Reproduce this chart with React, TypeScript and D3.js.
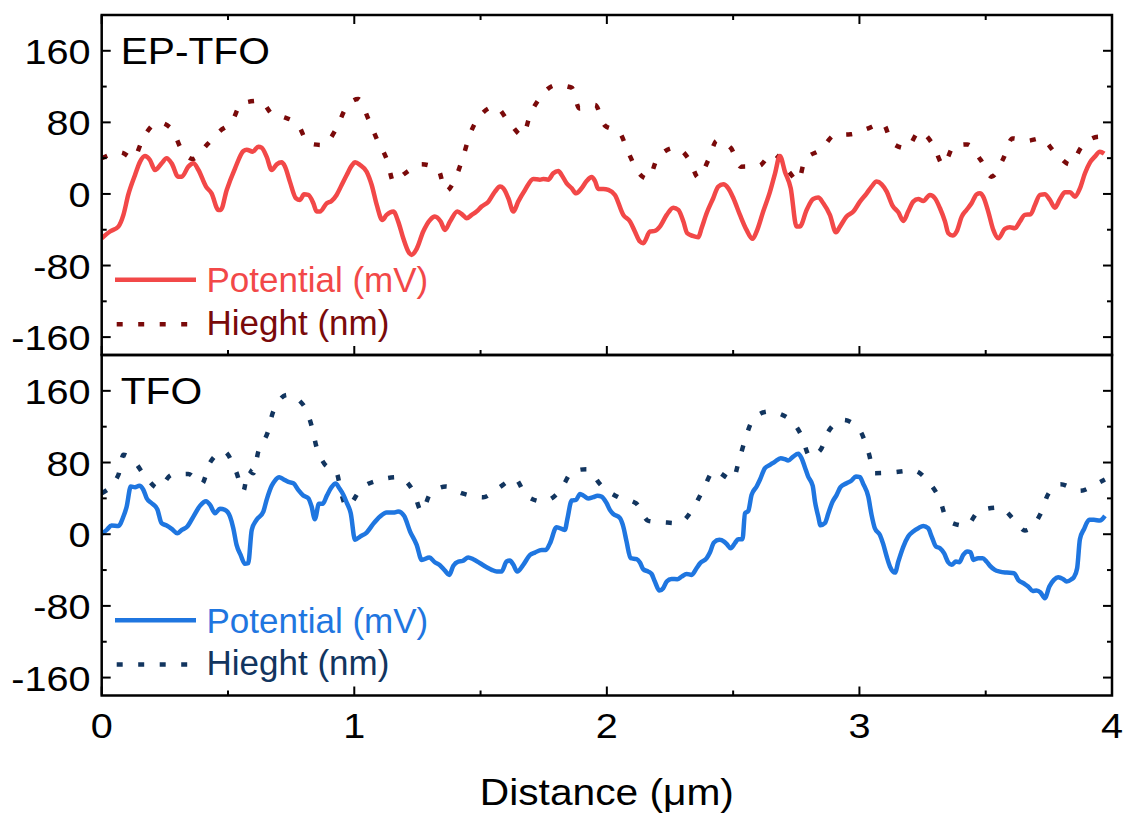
import React from 'react';
import * as d3 from 'd3';

// ---- axis ticks ----
const xMajorTicks = [0, 1, 2, 3, 4];
const xMinorTicks = [0.5, 1.5, 2.5, 3.5];
const yMajorTicks = [-160, -80, 0, 80, 160];
const yMinorTicks = [-120, -40, 40, 120];
const yDomain: [number, number] = [-180, 200];
const xDomain: [number, number] = [0, 4];

const panelLabels = ['EP-TFO', 'TFO'];
const legendLabels = ['Potential (mV)', 'Hieght (nm)'];
const xAxisTitle = 'Distance (\u03bcm)';

// ---- data: [distance (µm), value] ----
const epPotential: [number, number][] = [
  [0, -49.5], [0.033, -42], [0.066, -36.5], [0.086, -23.4], [0.105, -1.1], [0.132, 21.2], [0.152, 36.1], [0.171, 42.4],
  [0.191, 38], [0.211, 26.8], [0.237, 34.2], [0.257, 39.8], [0.277, 34.2], [0.303, 19.3], [0.317, 19.3], [0.343, 30.5],
  [0.363, 34.2], [0.383, 26.8], [0.413, 8.2], [0.435, 0.7], [0.462, -17.9], [0.471, -17.9], [0.495, 4.5], [0.528, 28.7],
  [0.561, 48], [0.574, 49.5], [0.598, 47.3], [0.62, 52.8], [0.633, 51.7], [0.653, 41.7], [0.673, 26.8], [0.693, 33.1],
  [0.712, 35.3], [0.726, 30.5], [0.745, 13.8], [0.769, -4.8], [0.785, -6.7], [0.801, -0.4], [0.818, -1.1], [0.838, -10.4],
  [0.851, -19.7], [0.864, -19.7], [0.891, -10.4], [0.91, -7.8], [0.93, -1.1], [0.95, 10], [0.97, 21.2], [0.99, 31.6],
  [1.003, 35.3], [1.023, 32.4], [1.049, 24.9], [1.069, 10], [1.089, -12.3], [1.111, -29], [1.128, -23.4], [1.155, -19.7],
  [1.174, -30.9], [1.194, -49.5], [1.214, -64.4], [1.227, -68.1], [1.247, -61.4], [1.273, -42], [1.3, -29], [1.319, -25.3],
  [1.342, -30.9], [1.359, -40.2], [1.379, -30.9], [1.408, -19.7], [1.429, -23.4], [1.445, -27.2], [1.465, -23.4], [1.484, -19.7],
  [1.504, -14.1], [1.531, -8.6], [1.557, 2.6], [1.577, 8.2], [1.59, 6.3], [1.61, -4.8], [1.63, -19.7], [1.649, -8.6],
  [1.676, 4.5], [1.709, 16.7], [1.735, 16], [1.748, 16.7], [1.768, 16], [1.788, 23.1], [1.808, 25.7], [1.821, 21.2],
  [1.841, 11.9], [1.861, 6.3], [1.878, 0.7], [1.9, 6.3], [1.92, 14.5], [1.94, 19], [1.953, 14.5], [1.966, 5.6],
  [1.986, 5.6], [2.006, 4.5], [2.032, -1.1], [2.065, -23.4], [2.092, -30.9], [2.111, -42], [2.131, -53.2], [2.144, -55.1],
  [2.171, -42], [2.19, -41.3], [2.21, -36.5], [2.237, -23.4], [2.263, -15.3], [2.283, -17.9], [2.303, -30.9], [2.318, -43.9],
  [2.34, -46.9], [2.362, -48.4], [2.375, -38.3], [2.395, -21.6], [2.421, -4.8], [2.441, 8.2], [2.461, 10.8], [2.481, 6.3],
  [2.501, -4.8], [2.527, -23.4], [2.553, -40.2], [2.577, -50.2], [2.593, -42], [2.619, -19.7], [2.646, 2.6], [2.666, 23.1],
  [2.685, 42.5], [2.705, 24.9], [2.728, 6.3], [2.751, -36.5], [2.764, -36.5], [2.791, -17.9], [2.817, -5.6], [2.837, -4.1],
  [2.857, -10.4], [2.883, -23.4], [2.907, -42.8], [2.923, -36.5], [2.949, -25.3], [2.976, -19.7], [3.002, -8.6], [3.028, 0.4],
  [3.048, 8.2], [3.068, 13.8], [3.088, 10.8], [3.108, 2.6], [3.131, -13], [3.154, -20.5], [3.174, -30.1], [3.193, -19.7],
  [3.213, -8.6], [3.233, -5.6], [3.253, -7.8], [3.279, -1.1], [3.299, -4.8], [3.319, -16], [3.339, -30.9], [3.352, -43.9],
  [3.369, -46.5], [3.385, -42], [3.405, -25.3], [3.424, -17.9], [3.444, -10.4], [3.464, -0.4], [3.477, 0.7], [3.49, -3],
  [3.51, -19.7], [3.53, -40.2], [3.55, -49.5], [3.576, -39.1], [3.596, -37.2], [3.616, -38.3], [3.635, -30.9], [3.655, -23.4],
  [3.678, -22.7], [3.695, -12.3], [3.715, -1.1], [3.734, -0.4], [3.754, -6.7], [3.774, -15.3], [3.794, -5.6], [3.814, 1.9],
  [3.834, 1.9], [3.853, -3], [3.873, 6.3], [3.893, 23.1], [3.913, 35.3], [3.932, 41.7], [3.952, 47.3], [3.969, 45],
];

const epHeight: [number, number][] = [
  [0, 39.8], [0.075, 46.5], [0.125, 39.8], [0.165, 62.9], [0.224, 80], [0.277, 72.6], [0.317, 49.1], [0.36, 39.1],
  [0.418, 55.4], [0.468, 70.3], [0.515, 80.7], [0.554, 101.2], [0.627, 104.2], [0.679, 88.2], [0.723, 85.6], [0.778, 77],
  [0.818, 56.6], [0.875, 54.7], [0.928, 72.6], [0.966, 95.6], [1.016, 106], [1.056, 83.7], [1.091, 60.3], [1.131, 36.8],
  [1.155, 13.8], [1.201, 23.1], [1.267, 33.1], [1.333, 26.8], [1.362, 3.3], [1.403, 19.3], [1.432, 42.8], [1.458, 66.6],
  [1.498, 87.4], [1.557, 97.5], [1.616, 78.9], [1.667, 65.1], [1.696, 88.2], [1.735, 107.5], [1.801, 121.7], [1.861, 118.7],
  [1.891, 95.6], [1.953, 99.4], [1.993, 76.3], [2.048, 69.6], [2.085, 46.5], [2.124, 24.2], [2.164, 16.7], [2.2, 39.8],
  [2.27, 51.7], [2.329, 36.8], [2.362, 18.2], [2.402, 38], [2.435, 59.5], [2.49, 51.7], [2.53, 30.5], [2.603, 31.6],
  [2.656, 45.4], [2.718, 25.7], [2.758, 14.5], [2.784, 38], [2.85, 50.2], [2.903, 65.9], [2.965, 66.6], [3.028, 72.6],
  [3.092, 78.9], [3.131, 56.6], [3.187, 51], [3.237, 69.6], [3.292, 54.7], [3.332, 32.4], [3.374, 53.6], [3.427, 55.4],
  [3.48, 38], [3.523, 19.3], [3.569, 39.1], [3.606, 62.1], [3.662, 59.2], [3.717, 62.1], [3.774, 46.5], [3.834, 33.1],
  [3.88, 52.8], [3.949, 64], [3.969, 60],
];

const tfoPotential: [number, number][] = [
  [0, 0.4], [0.02, 4.8], [0.039, 9.7], [0.066, 9.3], [0.086, 19.7], [0.099, 30.9], [0.115, 53.2], [0.132, 52.5],
  [0.149, 54], [0.165, 49.5], [0.178, 40.2], [0.198, 34.6], [0.22, 27.9], [0.237, 12.3], [0.257, 9.7], [0.277, 6],
  [0.299, 1.1], [0.317, 4.8], [0.339, 8.6], [0.363, 19.7], [0.389, 31.6], [0.413, 36.8], [0.429, 32.7], [0.449, 23.4],
  [0.468, 28.3], [0.488, 27.2], [0.508, 19.7], [0.521, 6.7], [0.534, -11.9], [0.55, -23.1], [0.567, -33.1], [0.58, -32.4],
  [0.594, 4.8], [0.613, 16], [0.64, 25.3], [0.653, 38.3], [0.673, 54], [0.686, 59.9], [0.703, 63.6], [0.719, 61.4],
  [0.739, 58.4], [0.759, 56.9], [0.778, 49.5], [0.798, 43.2], [0.818, 40.2], [0.831, 30.9], [0.844, 16.7], [0.86, 33.9],
  [0.875, 33.9], [0.891, 42.8], [0.91, 52.5], [0.926, 56.6], [0.941, 51.3], [0.957, 43.9], [0.97, 35.3], [0.986, 23.4],
  [1.003, -6.3], [1.023, -2.6], [1.049, 1.9], [1.075, 11.5], [1.102, 19.7], [1.128, 24.2], [1.155, 24.2], [1.174, 25.3],
  [1.197, 20.5], [1.221, 3], [1.247, -11.9], [1.267, -28.7], [1.297, -26], [1.319, -31.3], [1.339, -34.6], [1.359, -40.6],
  [1.376, -45.4], [1.392, -35.3], [1.412, -30.5], [1.429, -29.8], [1.451, -26], [1.471, -27.9], [1.498, -32.4], [1.524, -36.8],
  [1.544, -39.8], [1.564, -41.7], [1.583, -41.7], [1.603, -30.5], [1.616, -29.4], [1.63, -34.2], [1.645, -41.7], [1.669, -34.2],
  [1.696, -23.1], [1.715, -20.5], [1.742, -17.5], [1.759, -17.5], [1.775, -10], [1.801, 7.8], [1.834, 4.8], [1.843, 16],
  [1.861, 37.6], [1.878, 38.3], [1.894, 45], [1.909, 42.8], [1.926, 39.8], [1.946, 41.3], [1.963, 42.8], [1.979, 42],
  [1.999, 34.6], [2.012, 27.2], [2.025, 22.7], [2.052, 17.9], [2.065, 8.6], [2.078, -8.2], [2.094, -26.8], [2.118, -27.9],
  [2.131, -31.6], [2.144, -39.1], [2.164, -41.7], [2.177, -44.3], [2.19, -52.8], [2.208, -62.9], [2.223, -60.3], [2.237, -52.8],
  [2.256, -49.9], [2.279, -50.2], [2.296, -47.3], [2.316, -44.3], [2.336, -45.4], [2.355, -38], [2.369, -32.4], [2.395, -26.8],
  [2.408, -20.5], [2.424, -9.3], [2.445, -6.3], [2.464, -8.2], [2.474, -10.8], [2.49, -15.6], [2.507, -10], [2.52, -5.6],
  [2.537, -5.6], [2.547, 23.4], [2.56, 26], [2.573, 43.9], [2.593, 53.2], [2.606, 60.7], [2.626, 73.7], [2.646, 77.4],
  [2.666, 81.1], [2.688, 84.8], [2.705, 83.7], [2.718, 82.2], [2.738, 86.7], [2.758, 89.7], [2.771, 84.8], [2.784, 74.8],
  [2.797, 64.4], [2.815, 54], [2.824, 36.5], [2.837, 19.7], [2.846, 10], [2.863, 12.3], [2.877, 23.4], [2.892, 35.3],
  [2.91, 43.9], [2.925, 52.5], [2.949, 56.9], [2.969, 59.9], [2.986, 64.4], [3.002, 63.6], [3.015, 56.2], [3.035, 42],
  [3.048, 21.6], [3.061, 6.7], [3.081, -0.7], [3.094, -10.8], [3.108, -24.9], [3.121, -36.1], [3.141, -42.8], [3.154, -30.5],
  [3.174, -13.8], [3.193, -2.6], [3.213, 3], [3.233, 6.7], [3.253, 9.3], [3.272, 6.7], [3.286, -2.6], [3.303, -13.8],
  [3.319, -15.6], [3.335, -21.2], [3.352, -31.6], [3.365, -34.2], [3.382, -30.5], [3.395, -31.3], [3.411, -23.1], [3.427, -19.3],
  [3.44, -20.1], [3.451, -28.7], [3.47, -26.8], [3.488, -26.8], [3.503, -30.5], [3.517, -35.3], [3.536, -39.8], [3.556, -41.7],
  [3.583, -42.8], [3.612, -43.5], [3.629, -51], [3.649, -54.7], [3.668, -58.4], [3.686, -63.3], [3.701, -62.9], [3.717, -65.1],
  [3.734, -71.4], [3.752, -58.4], [3.77, -51], [3.787, -48], [3.807, -50.2], [3.82, -52.8], [3.84, -50.2], [3.849, -48],
  [3.862, -38], [3.873, -5.6], [3.889, 5.6], [3.91, 16], [3.928, 16], [3.952, 15.3], [3.972, 20.5],
];

const tfoHeight: [number, number][] = [
  [0, 45.8], [0.066, 66.2], [0.086, 88.6], [0.125, 82.2], [0.178, 62.5], [0.224, 51.3], [0.277, 66.2], [0.343, 67.3],
  [0.396, 56.2], [0.429, 80], [0.484, 92.3], [0.532, 70], [0.561, 48.4], [0.58, 71.8], [0.6, 68.1], [0.62, 92.3],
  [0.657, 113.5], [0.679, 136.9], [0.735, 155.5], [0.798, 144.4], [0.831, 120.9], [0.851, 96.7], [0.88, 79.3], [0.93, 68.8],
  [0.95, 43.9], [0.97, 30.9], [1.029, 51.3], [1.102, 60.7], [1.172, 63.6], [1.234, 47.6], [1.267, 25.3], [1.3, 44.7],
  [1.363, 53.2], [1.425, 45.8], [1.511, 41.3], [1.566, 50.6], [1.636, 61.8], [1.682, 42.8], [1.746, 36.5], [1.817, 49.5],
  [1.864, 70], [1.92, 72.6], [1.979, 54], [2.045, 41.3], [2.115, 34.6], [2.164, 14.9], [2.239, 13], [2.283, 12.3],
  [2.342, 29], [2.384, 51.3], [2.424, 71.1], [2.498, 60.7], [2.524, 83], [2.549, 107.2], [2.58, 128.4], [2.639, 136.9],
  [2.718, 129.5], [2.771, 109.8], [2.804, 86.7], [2.846, 94.1], [2.877, 114.6], [2.936, 127.6], [3.002, 115.7], [3.035, 92.3],
  [3.061, 68.1], [3.127, 68.8], [3.213, 71.1], [3.272, 58.8], [3.319, 38.3], [3.348, 15.3], [3.422, 9.3], [3.474, 26],
  [3.554, 29.8], [3.622, 13], [3.655, 4.1], [3.715, 21.6], [3.748, 45], [3.796, 55.8], [3.873, 48.4], [3.939, 56.2],
  [3.972, 61],
];

const panelSeries = [
  { potential: epPotential, height: epHeight, potColor: '#F24848', hColor: '#7A0A0A' },
  { potential: tfoPotential, height: tfoHeight, potColor: '#1F76E0', hColor: '#12355F' },
];

const FONT = '"Liberation Sans", Arial, Helvetica, sans-serif';
const W = 1125;
const H = 816;
const LEFT = 101.7;
const RIGHT = 1112;
const panelBounds = [
  [15, 355],
  [355, 695.5],
];
const DASH = '6 15.5';
const SX = 1.1;

function WideText({ x, y, anchor, size, children }: { x: number; y: number; anchor: string; size: number; children: React.ReactNode }) {
  return (
    <text
      transform={`translate(${x},${y}) scale(${SX},1)`}
      textAnchor={anchor}
      fontFamily={FONT}
      fontSize={size}
      fill="#000"
    >
      {children}
    </text>
  );
}

export default function App() {
  const x = d3.scaleLinear().domain(xDomain).range([LEFT, RIGHT]);

  const panels = panelBounds.map(([top, bottom], i) => {
    const y = d3.scaleLinear().domain(yDomain).range([bottom, top]);
    const s = panelSeries[i];
    const line = d3
      .line<[number, number]>()
      .x((d) => x(d[0]))
      .y((d) => y(d[1]))
      .curve(d3.curveMonotoneX);
    const clipId = `clip-${i}`;
    const legY1 = y(-96);
    return (
      <g key={i}>
        <defs>
          <clipPath id={clipId}>
            <rect x={LEFT} y={top} width={RIGHT - LEFT} height={bottom - top} />
          </clipPath>
        </defs>
        <g clipPath={`url(#${clipId})`}>
          <path d={line(s.height) || ''} fill="none" stroke={s.hColor} strokeWidth={4.5} strokeDasharray={DASH} />
          <path d={line(s.potential) || ''} fill="none" stroke={s.potColor} strokeWidth={4.5} strokeLinejoin="round" />
        </g>
        {yMajorTicks.map((t) => (
          <g key={'ym' + t}>
            <line x1={LEFT} x2={LEFT + 9} y1={y(t)} y2={y(t)} stroke="#000" strokeWidth={2} />
            <line x1={RIGHT} x2={RIGHT - 9} y1={y(t)} y2={y(t)} stroke="#000" strokeWidth={2} />
            <WideText x={90.5} y={y(t) + 13} anchor="end" size={36}>
              {t}
            </WideText>
          </g>
        ))}
        {yMinorTicks.map((t) => (
          <g key={'yn' + t}>
            <line x1={LEFT} x2={LEFT + 5} y1={y(t)} y2={y(t)} stroke="#000" strokeWidth={2} />
            <line x1={RIGHT} x2={RIGHT - 5} y1={y(t)} y2={y(t)} stroke="#000" strokeWidth={2} />
          </g>
        ))}
        {xMajorTicks.map((t) => (
          <g key={'xm' + t}>
            {i === 0 && <line x1={x(t)} x2={x(t)} y1={top} y2={top + 9} stroke="#000" strokeWidth={2} />}
            <line x1={x(t)} x2={x(t)} y1={bottom} y2={bottom - 9} stroke="#000" strokeWidth={2} />
          </g>
        ))}
        {xMinorTicks.map((t) => (
          <g key={'xn' + t}>
            {i === 0 && <line x1={x(t)} x2={x(t)} y1={top} y2={top + 5} stroke="#000" strokeWidth={2} />}
            <line x1={x(t)} x2={x(t)} y1={bottom} y2={bottom - 5} stroke="#000" strokeWidth={2} />
          </g>
        ))}
        <rect x={LEFT} y={top} width={RIGHT - LEFT} height={bottom - top} fill="none" stroke="#000" strokeWidth={2.5} />
        <WideText x={LEFT + 19} y={top + 48.5} anchor="start" size={37}>
          {panelLabels[i]}
        </WideText>
        <line x1={115} x2={196} y1={legY1} y2={legY1} stroke={s.potColor} strokeWidth={4.5} />
        <text x={206.5} y={legY1 + 12.6} fontFamily={FONT} fontSize={35} fill={s.potColor}>
          {legendLabels[0]}
        </text>
        <line x1={116.7} x2={190} y1={legY1 + 44.3} y2={legY1 + 44.3} stroke={s.hColor} strokeWidth={4.5} strokeDasharray={DASH} />
        <text x={206.5} y={legY1 + 55} fontFamily={FONT} fontSize={35} fill={s.hColor}>
          {legendLabels[1]}
        </text>
      </g>
    );
  });

  return (
    <svg width={W} height={H} style={{ position: 'absolute', left: 0, top: 0, background: '#fff' }}>
      <rect x={0} y={0} width={W} height={H} fill="#fff" />
      {panels}
      {xMajorTicks.map((t) => (
        <WideText key={'xl' + t} x={x(t)} y={738} anchor="middle" size={36}>
          {t}
        </WideText>
      ))}
      <WideText x={(LEFT + RIGHT) / 2} y={805} anchor="middle" size={37}>
        {xAxisTitle}
      </WideText>
    </svg>
  );
}
